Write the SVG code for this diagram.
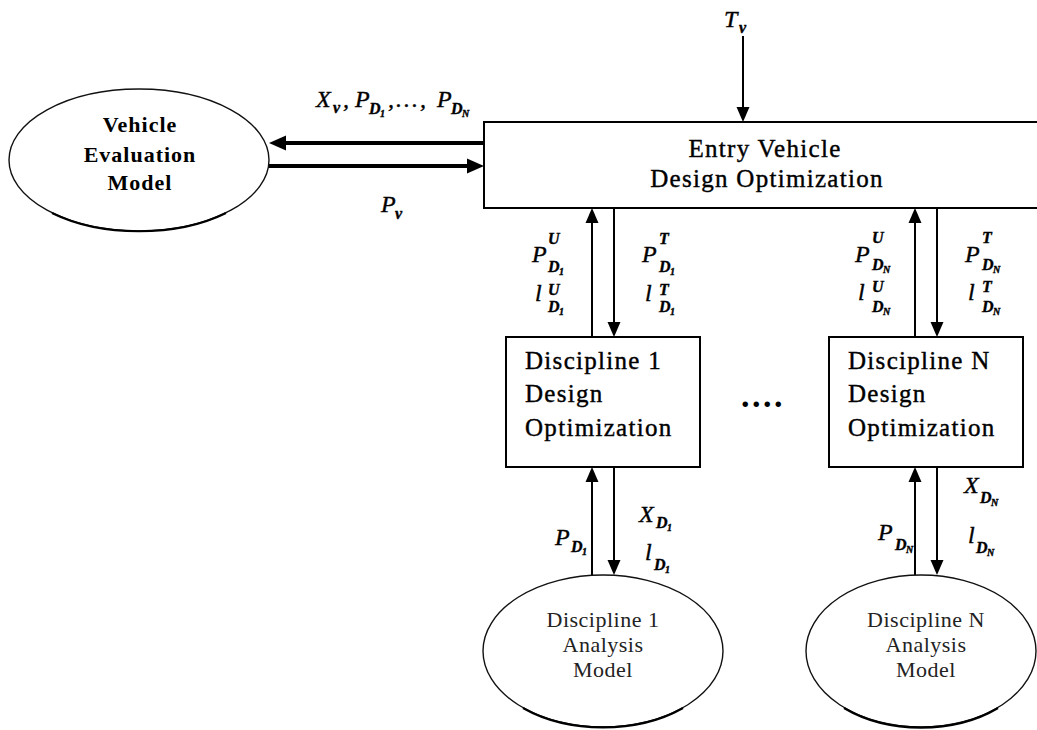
<svg xmlns="http://www.w3.org/2000/svg" width="1037" height="730" viewBox="0 0 1037 730">
  <style>
    .box { fill: #fff; stroke: #000; stroke-width: 2; }
    .ell { fill: #fff; stroke: #111; stroke-width: 1.4; }
    .ell-shade { fill: none; stroke: #000; stroke-width: 2.2; }
    .title { font-family: "Liberation Serif", "Times New Roman", serif; font-size: 25px; letter-spacing: 1.3px; fill: #000; stroke: #000; stroke-width: 0.4; }
    .bold { font-family: "Liberation Serif", "Times New Roman", serif; font-size: 22px; font-weight: bold; letter-spacing: 1px; fill: #000; }
    .light { font-family: "Liberation Serif", "Times New Roman", serif; font-size: 22px; letter-spacing: 0.5px; fill: #222; }
    .math { font-family: "Liberation Serif", "Times New Roman", serif; font-style: italic; fill: #000; stroke: #000; stroke-width: 0.4; }
    .m { font-size: 24px; }
    .s { font-size: 16px; font-weight: bold; }
    .i { font-size: 10px; font-weight: bold; }
    .thin { stroke: #000; stroke-width: 2; fill: none; }
    .thick { stroke: #000; stroke-width: 4; fill: none; }
  </style>
  <defs>
    <marker id="head" markerUnits="userSpaceOnUse" markerWidth="16" markerHeight="16" viewBox="0 -8 16 16" refX="0" refY="0" orient="auto" overflow="visible">
      <path d="M0,-6.5 L15,0 L0,6.5 z" fill="#000"/>
    </marker>
    <marker id="head-bold" markerUnits="userSpaceOnUse" markerWidth="18" markerHeight="18" viewBox="0 -9 18 18" refX="0" refY="0" orient="auto" overflow="visible">
      <path d="M0,-7.5 L17,0 L0,7.5 z" fill="#000"/>
    </marker>
  </defs>

  <rect width="1037" height="730" fill="#fff"/>

  <!-- connectors -->
  <g id="connectors">
    <line class="thin" x1="743" y1="36" x2="743" y2="107" marker-end="url(#head)"/>
    <line class="thick" x1="484" y1="143" x2="286" y2="143" marker-end="url(#head-bold)"/>
    <line class="thick" x1="268" y1="166" x2="467" y2="166" marker-end="url(#head-bold)"/>
    <line class="thin" x1="592" y1="337" x2="592" y2="223" marker-end="url(#head)"/>
    <line class="thin" x1="614" y1="208" x2="614" y2="322" marker-end="url(#head)"/>
    <line class="thin" x1="915" y1="337" x2="915" y2="223" marker-end="url(#head)"/>
    <line class="thin" x1="937" y1="208" x2="937" y2="322" marker-end="url(#head)"/>
    <line class="thin" x1="592" y1="575" x2="592" y2="482" marker-end="url(#head)"/>
    <line class="thin" x1="614" y1="467" x2="614" y2="560" marker-end="url(#head)"/>
    <line class="thin" x1="915" y1="575" x2="915" y2="482" marker-end="url(#head)"/>
    <line class="thin" x1="937" y1="467" x2="937" y2="560" marker-end="url(#head)"/>
  </g>

  <!-- vehicle evaluation model -->
  <g id="vehicle-eval">
    <ellipse class="ell" cx="139" cy="160" rx="130" ry="71"/>
    <path class="ell-shade" d="M52,213 A130,71 0 0 0 226,213"/>
    <text class="bold" text-anchor="middle" x="140" y="132">Vehicle</text>
    <text class="bold" text-anchor="middle" x="140" y="162">Evaluation</text>
    <text class="bold" text-anchor="middle" x="140" y="190">Model</text>
  </g>

  <!-- entry vehicle design optimization -->
  <g id="entry-opt">
    <rect class="box" x="484" y="122" width="570" height="86"/>
    <text class="title" text-anchor="middle" x="765" y="157">Entry Vehicle</text>
    <text class="title" text-anchor="middle" x="767" y="187">Design Optimization</text>
  </g>

  <!-- discipline 1 design optimization -->
  <g id="disc1-opt">
    <rect class="box" x="506" y="337" width="194" height="130"/>
    <text class="title" x="525" y="369">Discipline 1</text>
    <text class="title" x="525" y="402">Design</text>
    <text class="title" x="525" y="436">Optimization</text>
  </g>

  <!-- discipline N design optimization -->
  <g id="discN-opt">
    <rect class="box" x="829" y="337" width="194" height="130"/>
    <text class="title" x="848" y="369">Discipline N</text>
    <text class="title" x="848" y="402">Design</text>
    <text class="title" x="848" y="436">Optimization</text>
  </g>

  <!-- ellipsis between disciplines -->
  <g id="ellipsis">
    <text x="741" y="407" font-family="Liberation Serif, serif" font-size="34" font-weight="bold" letter-spacing="2.5">....</text>
  </g>

  <!-- discipline 1 analysis model -->
  <g id="disc1-model">
    <ellipse class="ell" cx="603" cy="651" rx="120" ry="76"/>
    <path class="ell-shade" d="M523,708 A120,76 0 0 0 683,708"/>
    <text class="light" text-anchor="middle" x="603" y="627">Discipline 1</text>
    <text class="light" text-anchor="middle" x="603" y="652">Analysis</text>
    <text class="light" text-anchor="middle" x="603" y="677">Model</text>
  </g>

  <!-- discipline N analysis model -->
  <g id="discN-model">
    <ellipse class="ell" cx="921" cy="651" rx="115" ry="76"/>
    <path class="ell-shade" d="M844,708 A115,76 0 0 0 998,708"/>
    <text class="light" text-anchor="middle" x="926" y="627">Discipline N</text>
    <text class="light" text-anchor="middle" x="926" y="652">Analysis</text>
    <text class="light" text-anchor="middle" x="926" y="677">Model</text>
  </g>

  <!-- flow labels -->
  <g id="labels" class="math">
    <!-- T_nu -->
    <text class="m" x="724" y="27">T</text>
    <text class="s" x="739" y="33" font-weight="normal">ν</text>

    <!-- X_nu, P_D1, ..., P_DN -->
    <text class="m" x="316" y="107">X</text>
    <text class="s" x="333" y="113" font-weight="normal">ν</text>
    <text class="m" x="343" y="107">,</text>
    <text class="m" x="355" y="107">P</text>
    <text class="s" x="369" y="114">D</text>
    <text class="i" x="380" y="117">1</text>
    <text class="m" x="388" y="107" letter-spacing="2">,...,</text>
    <text class="m" x="437" y="107">P</text>
    <text class="s" x="451" y="114">D</text>
    <text class="i" x="462" y="117">N</text>

    <!-- P_nu -->
    <text class="m" x="381" y="212">P</text>
    <text class="s" x="395" y="219" font-weight="normal">ν</text>

    <!-- discipline 1, upward to system -->
    <text class="m" x="532" y="262">P</text>
    <text class="s" x="548" y="244">U</text>
    <text class="s" x="548" y="272">D</text>
    <text class="i" x="559" y="275">1</text>
    <text class="m" x="535" y="301">l</text>
    <text class="s" x="548" y="295">U</text>
    <text class="s" x="548" y="312">D</text>
    <text class="i" x="559" y="315">1</text>

    <!-- discipline 1, targets from system -->
    <text class="m" x="642" y="262">P</text>
    <text class="s" x="659" y="244">T</text>
    <text class="s" x="659" y="272">D</text>
    <text class="i" x="670" y="275">1</text>
    <text class="m" x="645" y="301">l</text>
    <text class="s" x="659" y="295">T</text>
    <text class="s" x="659" y="312">D</text>
    <text class="i" x="670" y="315">1</text>

    <!-- discipline N, upward to system -->
    <text class="m" x="855" y="262">P</text>
    <text class="s" x="872" y="243">U</text>
    <text class="s" x="872" y="270">D</text>
    <text class="i" x="883" y="273">N</text>
    <text class="m" x="858" y="300">l</text>
    <text class="s" x="872" y="292">U</text>
    <text class="s" x="872" y="312">D</text>
    <text class="i" x="883" y="315">N</text>

    <!-- discipline N, targets from system -->
    <text class="m" x="965" y="262">P</text>
    <text class="s" x="982" y="243">T</text>
    <text class="s" x="982" y="270">D</text>
    <text class="i" x="993" y="273">N</text>
    <text class="m" x="968" y="300">l</text>
    <text class="s" x="982" y="292">T</text>
    <text class="s" x="982" y="312">D</text>
    <text class="i" x="993" y="315">N</text>

    <!-- discipline 1 analysis exchange -->
    <text class="m" x="555" y="545">P</text>
    <text class="s" x="571" y="552">D</text>
    <text class="i" x="582" y="555">1</text>
    <text class="m" x="639" y="522">X</text>
    <text class="s" x="656" y="528">D</text>
    <text class="i" x="667" y="531">1</text>
    <text class="m" x="645" y="560">l</text>
    <text class="s" x="654" y="570">D</text>
    <text class="i" x="665" y="573">1</text>

    <!-- discipline N analysis exchange -->
    <text class="m" x="878" y="540">P</text>
    <text class="s" x="895" y="550">D</text>
    <text class="i" x="906" y="553">N</text>
    <text class="m" x="964" y="493">X</text>
    <text class="s" x="980" y="503">D</text>
    <text class="i" x="991" y="506">N</text>
    <text class="m" x="968" y="543">l</text>
    <text class="s" x="976" y="553">D</text>
    <text class="i" x="987" y="556">N</text>
  </g>
</svg>
